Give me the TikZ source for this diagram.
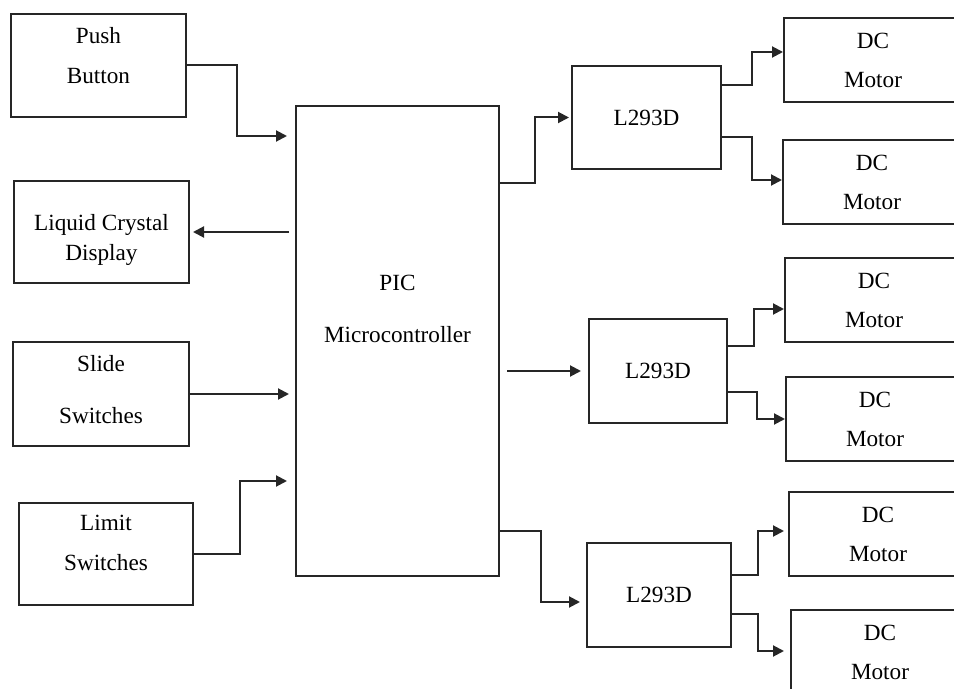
\documentclass[tikz,border=0pt]{standalone}
\usepackage{fontspec}
\setmainfont{Liberation Serif}
\usetikzlibrary{arrows.meta,positioning}

\begin{document}
\begin{tikzpicture}[
  x=0.5pt, y=-0.5pt,
  every node/.style={font=\fontsize{11.6}{14}\selectfont},
  blockbox/.style={draw=black!85,line width=1pt,align=center,inner sep=0pt},
  motorbox/.style={blockbox,minimum width=89pt,minimum height=42pt},
  link/.style={-{Triangle[length=5.5pt,width=5.5pt]},line width=1pt,black!85},
]
  \clip (0,0) rectangle (954,689);

  % Inputs
  \node[blockbox,minimum width=87.5pt,minimum height=51.5pt,text depth=10pt] (push) at (98.5,65.5) {Push\\[6pt]Button};
  \node[blockbox,minimum width=87.5pt,minimum height=51pt,text height=30.9pt] (lcd) at (101.5,232) {Liquid Crystal\\[1pt]Display};
  \node[blockbox,minimum width=88pt,minimum height=52pt,text depth=5pt] (slide) at (101,394) {Slide\\[12pt]Switches};
  \node[blockbox,minimum width=87pt,minimum height=51pt,text depth=11pt] (limit) at (106,554) {Limit\\[6pt]Switches};

  % Controller
  \node[blockbox,minimum width=101.5pt,minimum height=235pt,text depth=32pt] (pic) at (397.5,341) {PIC\\[12pt]Microcontroller};

  % Drivers
  \node[blockbox,minimum width=74.5pt,minimum height=51.5pt] (drvA) at (646.5,117.5) {L293D};
  \node[blockbox,minimum width=69pt,minimum height=52pt] (drvB) at (658,371) {L293D};
  \node[blockbox,minimum width=72pt,minimum height=52pt] (drvC) at (659,595) {L293D};

  % Motors
  \node[motorbox] (m1) at (873,60.5) {DC\\[5.5pt]Motor};
  \node[motorbox] (m2) at (872,182) {DC\\[5.5pt]Motor};
  \node[motorbox] (m3) at (874,300) {DC\\[5.5pt]Motor};
  \node[motorbox] (m4) at (875,419.5) {DC\\[5.5pt]Motor};
  \node[motorbox] (m5) at (878,534) {DC\\[5.5pt]Motor};
  \node[motorbox] (m6) at (880,652) {DC\\[5.5pt]Motor};

  % Inputs to controller
  \draw[link,shorten >=4pt] (push.east) -- (push.east -| 237,0) |- (pic.west |- 0,136);
  \draw[link,shorten <=3pt,shorten >=1.5pt] (pic.west |- lcd.east) -- (lcd.east);
  \draw[link,shorten >=3pt] (slide.east) -- (pic.west |- slide.east);
  \draw[link,shorten >=4pt] (limit.east) -- (limit.east -| 240,0) |- (pic.west |- 0,481);

  % Controller to drivers
  \draw[link,shorten >=1pt] (pic.east |- 0,183) -- (535,183) |- (drvA.west);
  \draw[link,shorten <=3.5pt,shorten >=3.5pt] (pic.east |- drvB.west) -- (drvB.west);
  \draw[link,shorten >=3pt] (pic.east |- 0,531) -- (541,531) |- (drvC.west |- 0,602);

  % Drivers to motors
  \draw[link] (drvA.east |- 0,85) -- (752,85) |- (m1.west |- 0,52);
  \draw[link] (drvA.east |- 0,137) -- (752,137) |- (m2.west |- 0,180);
  \draw[link] (drvB.east |- 0,346) -- (754,346) |- (m3.west |- 0,309);
  \draw[link] (drvB.east |- 0,392) -- (757,392) |- (m4.west |- 0,419);
  \draw[link,shorten >=2pt] (drvC.east |- 0,575) -- (758,575) |- (m5.west |- 0,531);
  \draw[link,shorten >=3pt] (drvC.east |- 0,614) -- (758,614) |- (m6.west |- 0,651);
\end{tikzpicture}
\end{document}
